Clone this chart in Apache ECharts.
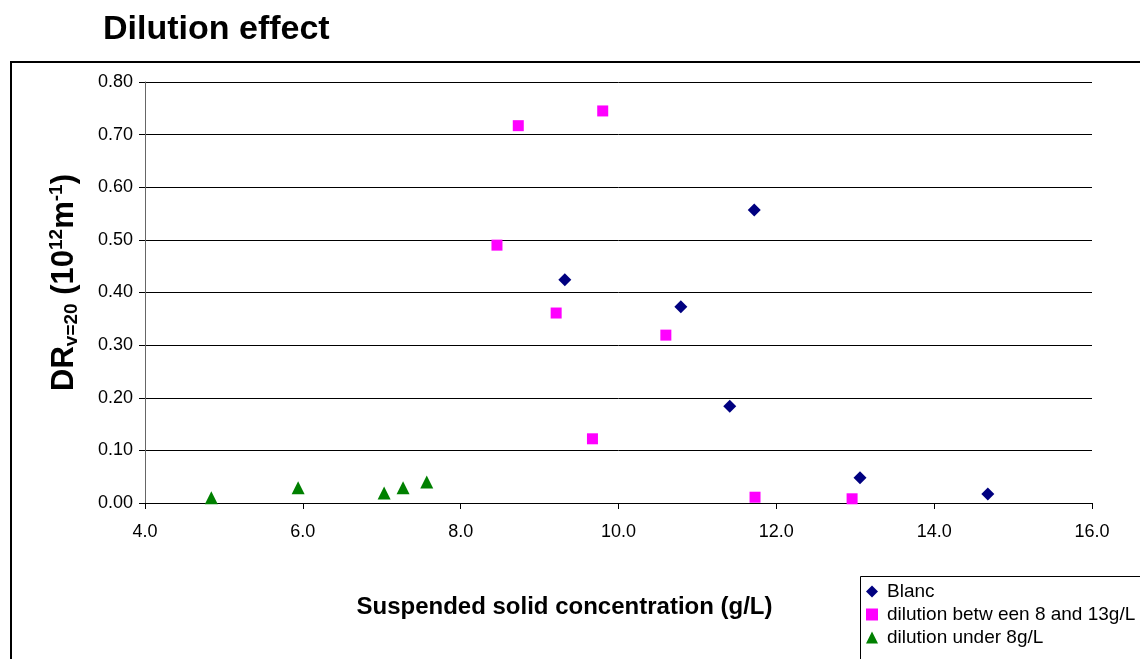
<!DOCTYPE html>
<html><head><meta charset="utf-8">
<script src="https://cdn.jsdelivr.net/npm/echarts@6/dist/echarts.min.js"></script>
<style>html,body{margin:0;padding:0;background:#fff}#c{width:1140px;height:659px}</style>
</head><body><div id="c"></div>
<script>
var blancX = [9.32, 11.72, 10.79, 11.41, 13.06, 14.68];
var blancY = [0.424, 0.557, 0.373, 0.184, 0.048, 0.017];
var midX = [8.73, 9.80, 8.46, 9.21, 10.60, 9.67, 11.73, 12.96];
var midY = [0.717, 0.745, 0.490, 0.361, 0.319, 0.122, 0.011, 0.008];
var lowX = [4.84, 5.94, 7.03, 7.27, 7.57];
var lowY = [0.010, 0.029, 0.019, 0.029, 0.040];
var seriesNames = ['Blanc', 'dilution betw een 8 and 13g/L', 'dilution under 8g/L'];

function pairs(xs, ys){ return xs.map(function(x,i){ return [x, ys[i]]; }); }
var F = "'Liberation Sans', Arial, sans-serif";
var chart = echarts.init(document.getElementById('c'));
chart.setOption({
  animation: false,
  backgroundColor: '#fff',
  title: { text: 'Dilution effect', left: 98, top: 8,
    textStyle: { fontFamily: F, fontSize: 34, fontWeight: 'bold', color: '#000' } },
  graphic: [
    { type: 'rect', shape: { x: 11, y: 62, width: 1200, height: 700 }, style: { fill: 'none', stroke: '#000', lineWidth: 2 }, z: -1 },
    { type: 'rect', shape: { x: 860.5, y: 576.5, width: 400, height: 200 }, style: { fill: '#fff', stroke: '#000', lineWidth: 1 }, z: 1 }
  ],
  legend: {
    orient: 'vertical', left: 861, top: 577, itemGap: 4, itemWidth: 12, itemHeight: 12,
    data: seriesNames,
    textStyle: { fontFamily: F, fontSize: 19, lineHeight: 19, color: '#000', padding: [0,0,0,4] }, z: 5
  },
  grid: { left: 145, right: 48, top: 82, bottom: 156 },
  xAxis: {
    type: 'value', min: 4, max: 16, interval: 2,
    name: 'Suspended solid concentration (g/L)', nameLocation: 'middle', nameGap: 92,
    nameTextStyle: { fontFamily: F, fontSize: 24, fontWeight: 'bold', color: '#000', padding: [0, 108, 0, 0] },
    axisLine: { show: true, lineStyle: { color: '#000', width: 1 } },
    axisTick: { show: true, inside: false, length: 6, lineStyle: { color: '#000' } },
    axisLabel: { fontFamily: F, fontSize: 18, color: '#000', margin: 20, formatter: function(v){ return v.toFixed(1); } },
    splitLine: { show: false }
  },
  yAxis: {
    type: 'value', min: 0, max: 0.8, interval: 0.1,
    name: '{a|DR}{s|v=20}{a| (10}{p|12}{a|m}{p|-1}{a|)}', nameLocation: 'middle', nameGap: 64, nameRotate: 90,
    nameTextStyle: { fontFamily: F, fontWeight: 'bold', color: '#000', padding: [0, 0, 0, 20],
      rich: {
        a: { fontFamily: F, fontSize: 31, fontWeight: 'bold', color: '#000', lineHeight: 34, verticalAlign: 'middle' },
        s: { fontFamily: F, fontSize: 19, fontWeight: 'bold', color: '#000', lineHeight: 34, verticalAlign: 'bottom', padding: [10,0,0,0] },
        p: { fontFamily: F, fontSize: 19, fontWeight: 'bold', color: '#000', lineHeight: 34, verticalAlign: 'top', padding: [0,0,8,0] }
      } },
    axisLine: { show: true, lineStyle: { color: '#666', width: 1 } },
    axisTick: { show: true, inside: false, length: 6, lineStyle: { color: '#000' } },
    axisLabel: { fontFamily: F, fontSize: 18, color: '#000', margin: 12, formatter: function(v){ return v.toFixed(2); } },
    splitLine: { show: true, lineStyle: { color: '#000', width: 1 } }
  },
  series: [
    { name: seriesNames[0], type: 'scatter', symbol: 'diamond', symbolSize: 13, itemStyle: { color: '#000080', opacity: 1 }, data: pairs(blancX, blancY) },
    { name: seriesNames[1], type: 'scatter', symbol: 'rect', symbolSize: 11, itemStyle: { color: '#FF00FF', opacity: 1 }, data: pairs(midX, midY) },
    { name: seriesNames[2], type: 'scatter', symbol: 'triangle', symbolSize: 13, itemStyle: { color: '#008000', opacity: 1 }, data: pairs(lowX, lowY) }
  ]
});
</script></body></html>
